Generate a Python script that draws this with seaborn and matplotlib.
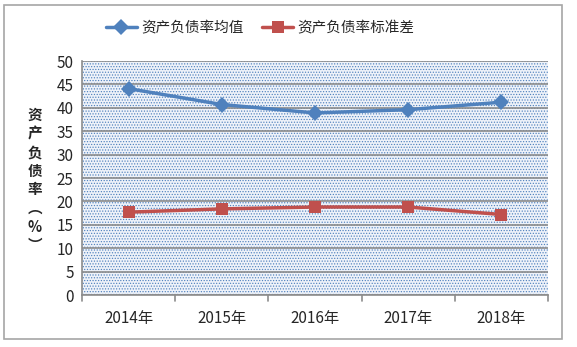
import matplotlib
matplotlib.use("Agg")
import matplotlib.pyplot as plt
import seaborn as sns
import pandas as pd
from matplotlib.patches import Rectangle

years = ["2014年", "2015年", "2016年", "2017年", "2018年"]
mean_vals = [44.1, 40.7, 38.9, 39.6, 41.2]
std_vals = [17.7, 18.4, 18.8, 18.8, 17.2]
series_names = ["资产负债率均值", "资产负债率标准差"]
yticks = [0, 5, 10, 15, 20, 25, 30, 35, 40, 45, 50]

sns.set_theme(style="white")
plt.rcParams['font.family'] = ['Noto Sans CJK SC', 'DejaVu Sans']
plt.rcParams['hatch.linewidth'] = 0.55

df = pd.DataFrame({
    "year": years * 2,
    "value": mean_vals + std_vals,
    "series": [series_names[0]] * 5 + [series_names[1]] * 5,
})

fig = plt.figure(figsize=(5.77, 3.47), dpi=100)
ax = fig.add_axes([82/577, 1-295/347, (548-82)/577, (295-61)/347])

# outer border
fig.patches.append(Rectangle((4/577, 1-339/347), (562-4)/577, (339-5)/347,
                             transform=fig.transFigure, fill=False,
                             edgecolor="#a6a6a6", linewidth=1.2))

# dotted background
ax.set_facecolor("white")
ax.add_patch(Rectangle((0, 0), 1, 1, transform=ax.transAxes, facecolor="#eef2f9",
                       hatch="......", edgecolor="#4f81bd", linewidth=0, zorder=0))

palette = {series_names[0]: "#4f81bd", series_names[1]: "#c0504d"}
markers = {series_names[0]: "D", series_names[1]: "s"}
sns.lineplot(data=df, x="year", y="value", hue="series", style="series",
             palette=palette, markers=markers, dashes=False, linewidth=2.5,
             markersize=8, markeredgewidth=0, ax=ax, sort=False, zorder=3)

ax.set_xlim(-0.5, 4.5)
ax.set_ylim(0, 50)
ax.set_yticks(yticks)
ax.set_yticklabels([str(v) for v in yticks], fontsize=11)
ax.yaxis.grid(True, color="#8c8c8c", linewidth=1.2, zorder=1)
ax.set_axisbelow(True)
ax.set_xticks(range(5))
ax.set_xticklabels(years, fontsize=11)
ax.tick_params(axis="x", length=0, pad=11)
ax.tick_params(axis="y", length=0, pad=6)
for x in [-0.5, 0.5, 1.5, 2.5, 3.5, 4.5]:
    ax.plot([x, x], [0, -1.2], color="#8c8c8c", lw=1.2, clip_on=False)
for s in ["top", "right"]:
    ax.spines[s].set_visible(False)
ax.spines["left"].set_color("#8c8c8c")
ax.spines["bottom"].set_color("#8c8c8c")
ax.spines["left"].set_linewidth(1.2)
ax.spines["bottom"].set_linewidth(1.2)
ax.set_xlabel("")
ax.set_ylabel("")

fig.text(35/577, 1-180/347, "\n".join("资产负债率︵%︶"), ha="center", va="center",
         fontsize=10.5, fontweight="bold", linespacing=1.2)

h, l = ax.get_legend_handles_labels()
ax.legend(h, l, loc="center left", bbox_to_anchor=(106/577, 1 - 28/347), bbox_transform=fig.transFigure,
          ncol=2, frameon=False, fontsize=10.5, handlelength=2.1, columnspacing=1.3,
          handletextpad=0.3, borderpad=0, borderaxespad=0)

fig.savefig("out.png", dpi=100)
